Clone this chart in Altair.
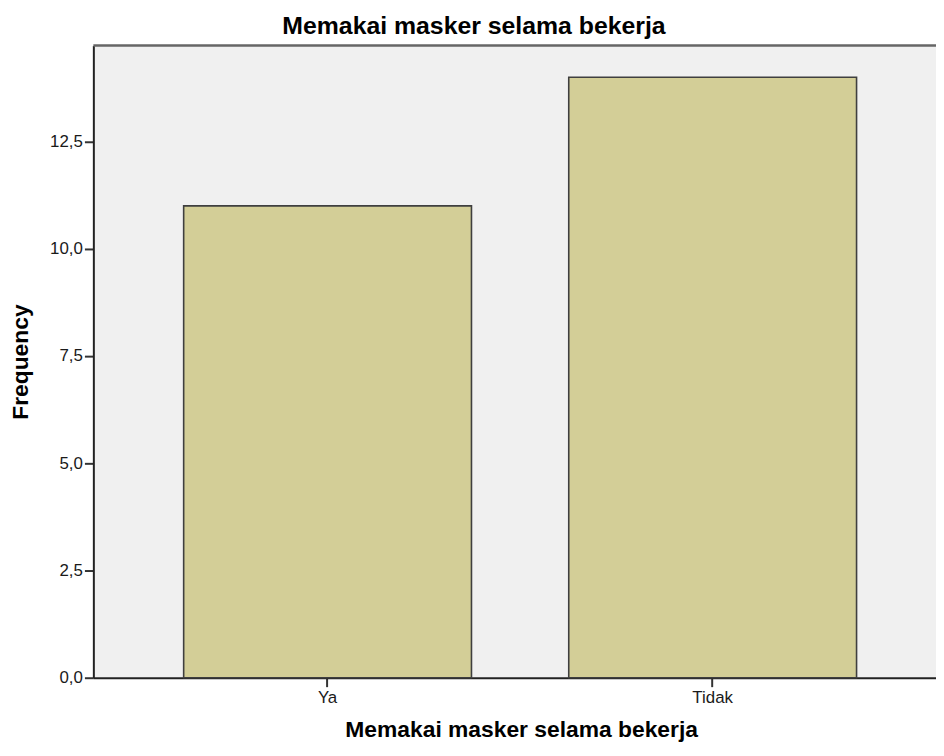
import altair as alt
import pandas as pd

categories = ["Ya", "Tidak"]
frequencies = [11, 14]
y_ticks = [0, 2.5, 5, 7.5, 10, 12.5]

df = pd.DataFrame({"cat": categories, "freq": frequencies})

W, H = 849, 637
FONT = "Liberation Sans"

bars = alt.Chart(df).mark_bar(fill="#D3CE97", stroke="#3F3F3F", strokeWidth=1.6).encode(
    x=alt.X(
        "cat:N",
        sort=categories,
        scale=alt.Scale(paddingInner=0.2526, paddingOuter=0.2204, align=0.532),
        axis=alt.Axis(
            title="Memakai masker selama bekerja",
            labelAngle=0,
            labelFont=FONT,
            labelFontSize=17,
            labelColor="#1A1A1A",
            labelPadding=3,
            tickSize=9,
            tickWidth=2,
            tickColor="#333333",
            domainColor="#222222",
            domainWidth=2,
            titleFont=FONT,
            titleFontSize=23,
            titleFontWeight="bold",
            titleColor="#000000",
            titleX=431,
            titleY=59,
            titleAlign="center",
            titleBaseline="alphabetic",
        ),
    ),
    y=alt.Y(
        "freq:Q",
        scale=alt.Scale(domain=[0, 14.74], nice=False),
        axis=alt.Axis(
            values=y_ticks,
            labelExpr="replace(format(datum.value, '.1f'), '.', ',')",
            grid=False,
            labelFont=FONT,
            labelFontSize=17,
            labelColor="#1A1A1A",
            labelPadding=2,
            tickSize=9,
            tickWidth=2,
            tickColor="#333333",
            domainColor="#222222",
            domainWidth=2,
            title="Frequency",
            titleFont=FONT,
            titleFontSize=23,
            titleFontWeight="bold",
            titleColor="#000000",
            titleX=-73,
            titleY=H / 2,
            titleAngle=270,
            titleAlign="center",
            titleBaseline="middle",
        ),
    ),
)

top_border = alt.Chart(pd.DataFrame({"a": [0]})).mark_rule(color="#666666", strokeWidth=2.5).encode(
    y=alt.value(0), x=alt.value(0), x2=alt.value(W + 20)
)

chart = (
    alt.layer(bars, top_border)
    .properties(
        width=W,
        height=H,
        autosize=alt.AutoSizeParams(type="none"),
        padding={"left": 86, "top": 35, "right": 0, "bottom": 63},
        background="#FFFFFF",
        title=alt.TitleParams(
            "Memakai masker selama bekerja",
            font=FONT,
            fontSize=25,
            fontWeight="bold",
            color="#000000",
            anchor="middle",
            frame="group",
            dx=-41,
            offset=-15,
            baseline="alphabetic",
        ),
    )
    .configure_view(stroke=None, fill="#F0F0F0")
)

chart.save("out.html", embed_options={"renderer": "svg", "actions": False})
